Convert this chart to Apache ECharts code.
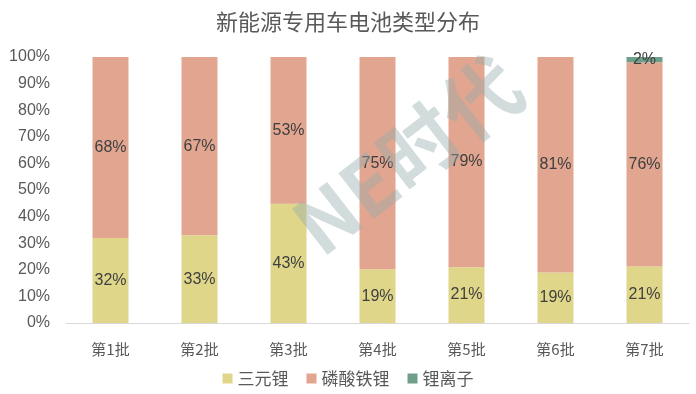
<!DOCTYPE html>
<html><head><meta charset="utf-8">
<script src="https://cdn.jsdelivr.net/npm/echarts@6/dist/echarts.min.js"></script>
<style>html,body{margin:0;padding:0;background:#fff}#c{width:696px;height:394px}</style>
</head><body><div id="c"></div>
<script>
const categories = ['第1批','第2批','第3批','第4批','第5批','第6批','第7批'];
const ternary = [32, 33, 43, 19, 21, 19, 21];
const lfp = [68, 67, 53, 75, 79, 81, 76];
const liIon = [0, 0, 0, 0, 0, 0, 2];
const seriesNames = ['三元锂','磷酸铁锂','锂离子'];
const yTicks = ['0%','10%','20%','30%','40%','50%','60%','70%','80%','90%','100%'];

const totals = categories.map((_, i) => ternary[i] + lfp[i] + liIon[i]);
const colors = ['#dfd68a', '#e1a590', '#6f9f8a'];
const raw = [ternary, lfp, liIon];

const chart = echarts.init(document.getElementById('c'));
const font = '"Noto Sans CJK SC", "Liberation Sans", sans-serif';
chart.setOption({
  animation: false,
  title: {text: '新能源专用车电池类型分布', left: 'center', top: 6,
    textStyle: {fontSize: 22, fontWeight: 'normal', color: '#595959', fontFamily: font}},
  legend: {bottom: 2, left: 'center', itemWidth: 10, itemHeight: 10, itemGap: 18, icon: 'rect',
    textStyle: {fontSize: 17, color: '#595959', fontFamily: font}},
  grid: {left: 66, right: 7, top: 57, bottom: 71},
  xAxis: {type: 'category', data: categories,
    axisLine: {lineStyle: {color: '#d9d9d9'}}, axisTick: {show: false},
    axisLabel: {fontSize: 15, color: '#595959', margin: 19, fontFamily: font}},
  yAxis: {type: 'value', min: 0, max: 1, interval: 0.1,
    splitLine: {show: false}, axisLine: {show: false}, axisTick: {show: false},
    axisLabel: {fontSize: 16, color: '#595959', margin: 16, fontFamily: '"Liberation Sans", sans-serif',
      formatter: v => yTicks[Math.round(v * 10)]}},
  graphic: [{type: 'text', left: 280, top: 44, rotation: 0.66, z: 100,
    style: {text: 'NE时代', fontSize: 78, fontWeight: 'bold', fill: 'rgba(150,172,172,0.42)', fontFamily: font}}],
  series: seriesNames.map((name, s) => ({
    name, type: 'bar', stack: 'total', barWidth: 36,
    itemStyle: {color: colors[s]},
    data: raw[s].map((v, i) => ({value: v / totals[i], raw: v})),
    label: {show: true, position: 'inside', fontSize: 16, color: '#404040',
      fontFamily: '"Liberation Sans", sans-serif',
      formatter: p => p.data.raw > 0 ? p.data.raw + '%' : ''}
  }))
});
</script></body></html>
